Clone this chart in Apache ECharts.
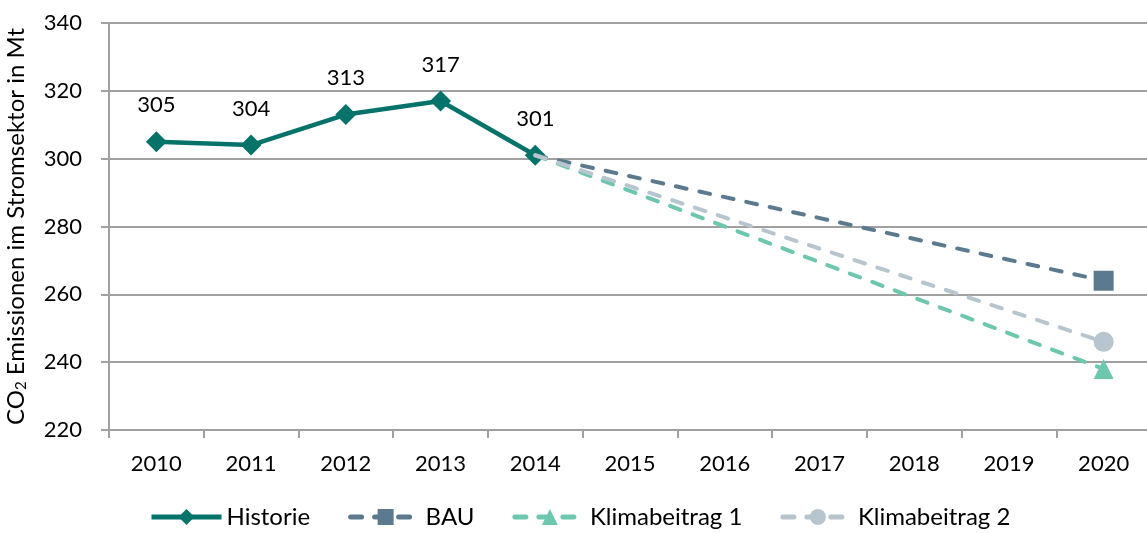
<!DOCTYPE html>
<html>
<head>
<meta charset="utf-8">
<script src="https://cdn.jsdelivr.net/npm/echarts@6/dist/echarts.min.js"></script>
<style>
html, body { margin: 0; padding: 0; background: #fff; }
#chart0 { width: 1147px; height: 533px; }
</style>
</head>
<body>
<div id="chart0"></div>
<script>
// Jahre und Werte (Mt CO2)
var years = ['2010', '2011', '2012', '2013', '2014', '2015', '2016', '2017', '2018', '2019', '2020'];
var historie = [305, 304, 313, 317, 301, null, null, null, null, null, null];
var bau = [null, null, null, null, 301, null, null, null, null, null, 264];
var klima1 = [null, null, null, null, 301, null, null, null, null, null, 238];
var klima2 = [null, null, null, null, 301, null, null, null, null, null, 246];
var yTicks = [220, 240, 260, 280, 300, 320, 340];

var font = 'Lato';

// Marker nur am letzten Punkt
function lastOnly(arr) {
    return arr.map(function (v, i) {
        if (v === null) return null;
        return i === arr.length - 1 ? v : { value: v, symbol: 'none' };
    });
}

function dashed(name, data, color, symbol) {
    return {
        name: name,
        type: 'line',
        data: lastOnly(data),
        connectNulls: true,
        symbol: symbol,
        symbolSize: 20,
        itemStyle: { color: color },
        lineStyle: { color: color, width: 4, type: [11, 13], cap: 'round' },
        z: 3
    };
}

var lineChart = echarts.init(document.getElementById('chart0'));
var option = {
    animation: false,
    textStyle: { fontFamily: font },
    grid: { left: 109, top: 23, bottom: 103, right: -4, outerBoundsMode: 'none', containLabel: false },
    legend: {
        left: 144,
        bottom: -1,
        itemWidth: 70,
        itemHeight: 20,
        itemGap: 38,
        lineStyle: { width: 5 },
        textStyle: { fontSize: 24, color: '#000', fontFamily: font },
        data: ['Historie', 'BAU', 'Klimabeitrag 1', 'Klimabeitrag 2']
    },
    xAxis: {
        type: 'category',
        data: years,
        boundaryGap: true,
        axisLine: { lineStyle: { color: '#a0a0a0', width: 2 } },
        axisTick: { show: true, length: 8, lineStyle: { color: '#a0a0a0', width: 2 } },
        axisLabel: { fontSize: 22, color: '#000', margin: 23 }
    },
    yAxis: {
        type: 'value',
        min: yTicks[0],
        max: yTicks[yTicks.length - 1],
        interval: 20,
        name: '{n|CO}{s|2}{n| Emissionen im Stromsektor in Mt}',
        nameLocation: 'middle',
        nameGap: 80,
        nameRotate: 90,
        nameTextStyle: {
            rich: {
                n: { fontSize: 24, color: '#000', fontFamily: font },
                s: { fontSize: 15, color: '#000', fontFamily: font, padding: [11, 0, 0, 0] }
            }
        },
        axisLine: { show: true, lineStyle: { color: '#a0a0a0', width: 2 } },
        axisTick: { show: true, length: 8, lineStyle: { color: '#a0a0a0', width: 2 } },
        axisLabel: { fontSize: 22, color: '#000', margin: 27 },
        splitLine: { lineStyle: { color: '#a0a0a0', width: 2 } }
    },
    series: [
        {
            name: 'Historie',
            type: 'line',
            data: historie,
            symbol: 'diamond',
            symbolSize: 21,
            itemStyle: { color: '#05736a' },
            lineStyle: { color: '#05736a', width: 4.5 },
            label: {
                show: true,
                position: 'top',
                distance: 15,
                fontSize: 22,
                color: '#000',
                fontFamily: font
            },
            z: 2
        },
        dashed('BAU', bau, '#5b7a90', 'rect'),
        dashed('Klimabeitrag 1', klima1, '#6cc7ae', 'triangle'),
        dashed('Klimabeitrag 2', klima2, '#b7c6ce', 'circle')
    ]
};
lineChart.setOption(option);
</script>
</body>
</html>
